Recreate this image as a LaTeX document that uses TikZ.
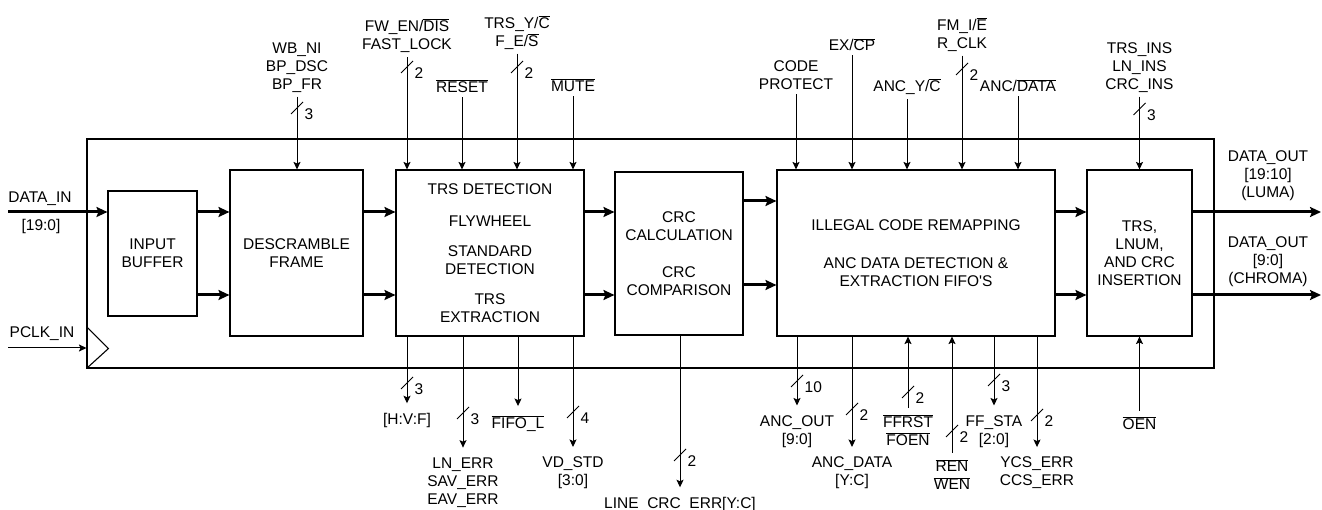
\documentclass[tikz,border=0pt]{standalone}
\usepackage{fontspec}
\setmainfont{Liberation Sans}
\usetikzlibrary{arrows.meta}
\newcommand{\ovl}[1]{$\overline{\mbox{#1}}$}

\tikzset{
    pics/buswidth/.style={code={
        \draw[line width=1pt] (-6,6) -- (6,-6);
        \node[anchor=west, inner sep=0pt] at (7.5,6.5) {#1};
    }}
}

\begin{document}
\begin{tikzpicture}[x=1pt, y=-1pt,
    every node/.style={font=\fontsize{15.5}{18}\selectfont},
    block/.style={draw, line width=1.1pt, inner sep=0pt, align=center},
    lbltop/.style={align=center, inner sep=2pt, outer sep=2.3pt},
    lblup/.style={align=center, inner sep=2pt, outer sep=4.5pt},
    lbldown/.style={align=center, inner sep=2pt, outer sep=8pt},
    sig/.style={line width=1pt, -{Stealth[length=7.5pt,width=7pt,inset=1.5pt]}},
    thickbus/.style={line width=3pt, -{Stealth[length=11pt,width=10pt,inset=2pt]}}]
    \useasboundingbox (0,0) rectangle (1322,510);

    % rows of the data paths
    \coordinate (rowA) at (0,212);
    \coordinate (rowB) at (0,295);
    \coordinate (rowC) at (0,201);
    \coordinate (rowD) at (0,285);

    % Chip outline and clock input
    \node[draw, line width=1.1pt, inner sep=0pt, minimum width=1127pt, minimum height=229pt] (chip) at (650.5,253.5) {};
    \draw[line width=1.1pt] ([yshift=42pt]chip.south west) -- ++(22,22) -- (chip.south west);

    % Blocks
    \node[block, minimum width=89pt, minimum height=125pt] (inbuf) at (152.5,253.5) {INPUT\\BUFFER};
    \node[block, minimum width=133pt, minimum height=166pt] (descr) at (296.5,253) {DESCRAMBLE\\FRAME};
    \node[block, minimum width=188pt, minimum height=166pt] (trsdet) at (490,253)
        {TRS DETECTION\\[14pt]FLYWHEEL\\[12pt]STANDARD\\DETECTION\\[12pt]TRS\\EXTRACTION};
    \node[block, minimum width=128pt, minimum height=163pt] (crc) at (679,253.5)
        {CRC\\CALCULATION\\[19pt]CRC\\COMPARISON};
    \node[block, minimum width=278pt, minimum height=166pt] (remap) at (916,253)
        {ILLEGAL CODE REMAPPING\\[20pt]ANC DATA DETECTION \&\\EXTRACTION FIFO\textquotesingle S};
    \node[block, minimum width=105pt, minimum height=166pt] (trsins) at (1139.5,253)
        {TRS,\\LNUM,\\AND CRC\\INSERTION};

    % Data inputs
    \coordinate (datain) at (8,212);
    \coordinate (pclkin) at (8,348);
    \node (lbldatain) at (40,199) {DATA\_IN};
    \node (lblbits) at (41,226.5) {[19:0]};
    \node (lblpclk) at (42,333.5) {PCLK\_IN};
    \draw[thickbus] (datain) -- (inbuf.west |- rowA);
    \draw[sig] (pclkin) -- (pclkin -| chip.west);

    % Data paths
    \draw[thickbus] (inbuf.east |- rowA) -- (descr.west |- rowA);
    \draw[thickbus] (inbuf.east |- rowB) -- (descr.west |- rowB);
    \draw[thickbus] (descr.east |- rowA) -- (trsdet.west |- rowA);
    \draw[thickbus] (descr.east |- rowB) -- (trsdet.west |- rowB);
    \draw[thickbus] (trsdet.east |- rowA) -- (crc.west |- rowA);
    \draw[thickbus] (trsdet.east |- rowB) -- (crc.west |- rowB);
    \draw[thickbus] (crc.east |- rowC) -- (remap.west |- rowC);
    \draw[thickbus] (crc.east |- rowD) -- (remap.west |- rowD);
    \draw[thickbus] (remap.east |- rowA) -- (trsins.west |- rowA);
    \draw[thickbus] (remap.east |- rowB) -- (trsins.west |- rowB);

    % Data outputs
    \coordinate (outA) at (1321,212);
    \coordinate (outB) at (1321,295);
    \draw[thickbus] (trsins.east |- rowA) -- (outA);
    \draw[thickbus] (trsins.east |- rowB) -- (outB);
    \node[align=center] (lblluma) at (1268,176) {DATA\_OUT\\{[19:10]}\\(LUMA)};
    \node[align=center] (lblchroma) at (1268,261.6) {DATA\_OUT\\{[9:0]}\\(CHROMA)};

    % Control inputs (top)
    \node[lbltop] (lblwb) at (297,67.5) {WB\_NI\\BP\_DSC\\BP\_FR};
    \node[lbltop] (lblfw) at (407,36) {FW\_EN/\ovl{DIS}\\FAST\_LOCK};
    \node[lbltop] (lblreset) at (462,86.5) {\ovl{RESET}};
    \node[lbltop] (lbltrsy) at (517,32.5) {TRS\_Y/\ovl{C}\\F\_E/\ovl{S}};
    \node[lbltop] (lblmute) at (573,85.5) {\ovl{MUTE}};
    \node[lbltop] (lblcode) at (796,75.5) {CODE\\PROTECT};
    \node[lbltop] (lblex) at (852,44.6) {EX/\ovl{CP}};
    \node[lbltop] (lblancy) at (907,87) {ANC\_Y/\ovl{C}};
    \node[lbltop] (lblfm) at (962,34.5) {FM\_I/\ovl{E}\\R\_CLK};
    \node[lbltop] (lblancd) at (1018,85.6) {ANC/\ovl{DATA}};
    \node[lbltop] (lblins) at (1139.5,67.5) {TRS\_INS\\LN\_INS\\CRC\_INS};

    \draw[sig] (lblwb) -- (lblwb |- descr.north);
    \draw[sig] (lblfw) -- (lblfw |- trsdet.north);
    \draw[sig] (lblreset) -- (lblreset |- trsdet.north);
    \draw[sig] (lbltrsy) -- (lbltrsy |- trsdet.north);
    \draw[sig] (lblmute) -- (lblmute |- trsdet.north);
    \draw[sig] (lblcode) -- (lblcode |- remap.north);
    \draw[sig] (lblex) -- (lblex |- remap.north);
    \draw[sig] (lblancy) -- (lblancy |- remap.north);
    \draw[sig] (lblfm) -- (lblfm |- remap.north);
    \draw[sig] (lblancd) -- (lblancd |- remap.north);
    \draw[sig] (lblins) -- (lblins |- trsins.north);

    \pic at (297,108) {buswidth=3};
    \pic at (407,67) {buswidth=2};
    \pic at (517,67) {buswidth=2};
    \pic at (962,69) {buswidth=2};
    \pic at (1139.5,109) {buswidth=3};

    % Status outputs and inputs (bottom)
    \node[lbldown] (lblhvf) at (407,420.5) {[H:V:F]};
    \node[lbldown] (lbllnerr) at (463,482.5) {LN\_ERR\\SAV\_ERR\\EAV\_ERR};
    \node[lbldown] (lblfifo) at (518,424) {\ovl{FIFO\_L}};
    \node[lbldown] (lblvdstd) at (573,473) {VD\_STD\\{[3:0]}};
    \node[lbldown] (lblcrcerr) at (680,504.5) {LINE\_CRC\_ERR[Y:C]};
    \node[lbldown] (lblancout) at (797,431.5) {ANC\_OUT\\{[9:0]}};
    \node[lbldown] (lblancdata) at (852,473) {ANC\_DATA\\{[Y:C]}};
    \node[lblup] (lblffrst) at (908,430) {\ovl{FFRST}\\\ovl{FOEN}};
    \node[lblup] (lblren) at (952,474.5) {\ovl{REN}\\\ovl{WEN}};
    \node[lbldown] (lblffsta) at (994,431.5) {FF\_STA\\{[2:0]}};
    \node[lbldown] (lblycs) at (1037,473) {YCS\_ERR\\CCS\_ERR};
    \node[lblup] (lbloen) at (1139.5,423.5) {\ovl{OEN}};

    \draw[sig] (trsdet.south -| lblhvf) -- (lblhvf);
    \draw[sig] (trsdet.south -| lbllnerr) -- (lbllnerr);
    \draw[sig] (trsdet.south -| lblfifo) -- (lblfifo);
    \draw[sig] (trsdet.south -| lblvdstd) -- (lblvdstd);
    \draw[sig] (crc.south -| lblcrcerr) -- (lblcrcerr);
    \draw[sig] (remap.south -| lblancout) -- (lblancout);
    \draw[sig] (remap.south -| lblancdata) -- (lblancdata);
    \draw[sig] (lblffrst) -- (lblffrst |- remap.south);
    \draw[sig] (lblren) -- (lblren |- remap.south);
    \draw[sig] (remap.south -| lblffsta) -- (lblffsta);
    \draw[sig] (remap.south -| lblycs) -- (lblycs);
    \draw[sig] (lbloen) -- (lbloen |- trsins.south);

    \pic at (407,383) {buswidth=3};
    \pic at (463,413) {buswidth=3};
    \pic at (573,412) {buswidth=4};
    \pic at (680,455) {buswidth=2};
    \pic at (797,381) {buswidth=10};
    \pic at (852,409) {buswidth=2};
    \pic at (908,392) {buswidth=2};
    \pic at (952,431) {buswidth=2};
    \pic at (994,380) {buswidth=3};
    \pic at (1037,415) {buswidth=2};
\end{tikzpicture}
\end{document}
